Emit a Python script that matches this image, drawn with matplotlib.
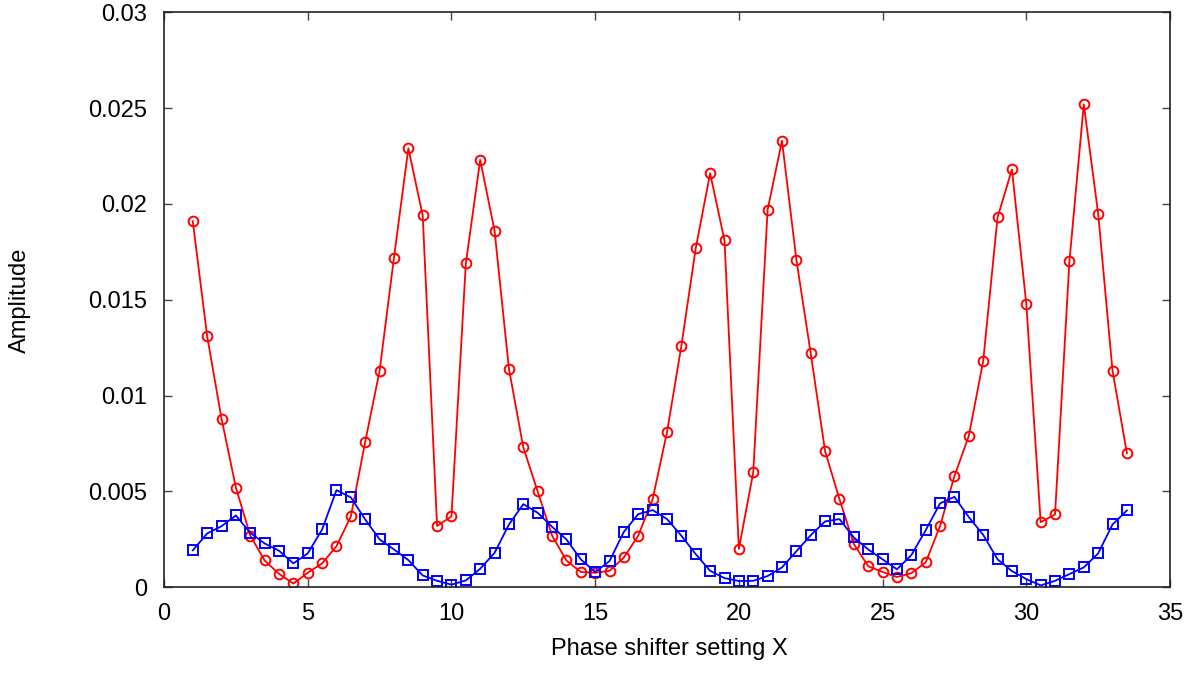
import numpy as np
import matplotlib
matplotlib.use("Agg")
import matplotlib.pyplot as plt

plt.rcParams['font.family'] = ['Liberation Sans', 'DejaVu Sans']

# phase shifter settings, 1 .. 33.5 in half steps
x_set = [1, 1.5, 2, 2.5, 3, 3.5, 4, 4.5, 5, 5.5, 6, 6.5, 7, 7.5, 8, 8.5,
         9, 9.5, 10, 10.5, 11, 11.5, 12, 12.5, 13, 13.5, 14, 14.5, 15, 15.5,
         16, 16.5, 17, 17.5, 18, 18.5, 19, 19.5, 20, 20.5, 21, 21.5, 22, 22.5,
         23, 23.5, 24, 24.5, 25, 25.5, 26, 26.5, 27, 27.5, 28, 28.5, 29, 29.5,
         30, 30.5, 31, 31.5, 32, 32.5, 33, 33.5]

amp_red = [0.0191, 0.0131, 0.0088, 0.0052, 0.0027, 0.0014, 0.0007, 0.0002,
           0.00076, 0.00125, 0.00215, 0.0037, 0.0076, 0.0113, 0.0172, 0.0229,
           0.0194, 0.0032, 0.0037, 0.0169, 0.0223, 0.0186, 0.0114, 0.0073,
           0.0050, 0.0027, 0.0014, 0.0008, 0.00076, 0.00086, 0.00156, 0.0027,
           0.0046, 0.0081, 0.0126, 0.0177, 0.0216, 0.0181, 0.0020, 0.0060,
           0.0197, 0.0233, 0.0171, 0.0122, 0.0071, 0.0046, 0.00226, 0.0011,
           0.0008, 0.00054, 0.00074, 0.0013, 0.0032, 0.0058, 0.0079, 0.0118,
           0.0193, 0.0218, 0.0148, 0.0034, 0.0038, 0.0170, 0.0252, 0.0195,
           0.0113, 0.0070]

amp_blue = [0.00193, 0.00281, 0.00319, 0.00375, 0.00284, 0.00229, 0.00191,
            0.00125, 0.00177, 0.00302, 0.00507, 0.00469, 0.00354, 0.0025,
            0.00198, 0.00142, 0.00062, 0.00034, 0.00014, 0.00036, 0.00097,
            0.0018, 0.00328, 0.00434, 0.00389, 0.00316, 0.0025, 0.00146,
            0.0008, 0.00137, 0.0029, 0.00382, 0.00403, 0.00356, 0.00269,
            0.00173, 0.00086, 0.00048, 0.00033, 0.00034, 0.00059, 0.00104,
            0.00188, 0.00272, 0.00344, 0.00356, 0.0026, 0.00198, 0.00146,
            0.00094, 0.00168, 0.00298, 0.00438, 0.00472, 0.00366, 0.00274,
            0.00146, 0.00085, 0.00043, 0.0001, 0.00034, 0.00069, 0.00104,
            0.00177, 0.00328, 0.00401]

fig = plt.figure(figsize=(12, 6.73), dpi=100)
ax = fig.add_axes([0.1367, 0.1273, 0.8383, 0.8544])

ax.plot(x_set, amp_red, color='#ff0000', lw=1.3, marker='o', ms=7,
        mfc='none', mew=1.4)
ax.plot(x_set, amp_blue, color='#0000ff', lw=1.3, marker='s', ms=6.5,
        mfc='none', mew=1.4)

ax.set_xlim(0, 35)
ax.set_ylim(0, 0.03)
ax.set_xticks(np.arange(0, 36, 5))
ax.set_yticks([0, 0.005, 0.01, 0.015, 0.02, 0.025, 0.03])
ax.set_yticklabels(['0', '0.005', '0.01', '0.015', '0.02', '0.025', '0.03'])

ax.tick_params(direction='in', top=True, right=True, length=6, width=1,
               labelsize=17, color='#444444')
ax.tick_params(axis='y', pad=12)
ax.tick_params(axis='x', pad=11)
for s in ax.spines.values():
    s.set_linewidth(1.2)
    s.set_color('#222222')

# axis titles placed like the gnuplot original
fig.text(0.5575, 1 - 655 / 673, 'Phase shifter setting X', fontsize=17,
         ha='center', va='baseline')
fig.text(20 / 1200, 0.5545, 'Amplitude', fontsize=17, rotation=90,
         ha='center', va='center')

fig.savefig('out.png', dpi=100)
